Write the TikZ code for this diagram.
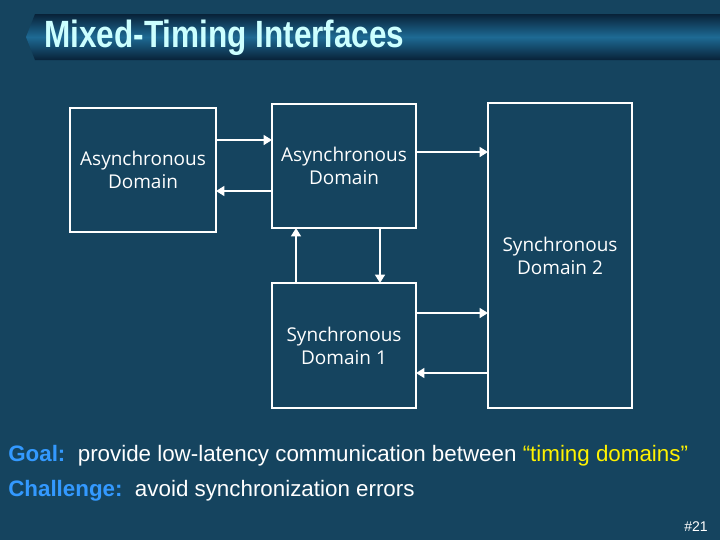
\documentclass[tikz,border=0pt]{standalone}
\usepackage{fontspec}
\setmainfont{Liberation Sans}
\newfontfamily\boxfont{Open Sans}
\usetikzlibrary{arrows.meta}
\definecolor{bg}{HTML}{15445F}
\definecolor{titlec}{HTML}{CCFFFF}
\definecolor{goalc}{HTML}{3399FF}
\definecolor{barmid}{HTML}{1E6A94}
\definecolor{bardark}{HTML}{082238}
\tikzset{box/.style={draw=white,line width=1.3pt,align=center,text=white,font=\boxfont\fontsize{13.5}{16}\selectfont},
 arr/.style={draw=white,line width=2pt,-{Triangle[length=6pt,width=7pt]}}}
\begin{document}
\begin{tikzpicture}[x=0.025cm,y=-0.025cm]
\fill[bg] (0,0) rectangle (720,540);
\useasboundingbox (0,0) rectangle (720,540);
\shade[top color=bardark,bottom color=bardark,middle color=barmid] (35,14) -- (720,14) -- (720,60) -- (35,60) -- (26,37) -- cycle;
\node[anchor=west,text=titlec,font=\bfseries\fontsize{27}{30}\selectfont,xscale=0.83,inner sep=0pt] (title) at (44,38) {Mixed-Timing Interfaces};
\draw[box] (70,108) rectangle (216,232);
\node[box,draw=none] (a1) at (143,170) {Asynchronous\\Domain};
\draw[box] (272,104) rectangle (416,228);
\node[box,draw=none] (a2) at (344,166) {Asynchronous\\Domain};
\draw[box] (272,283) rectangle (416,408);
\node[box,draw=none] (s1) at (344,346) {Synchronous\\Domain 1};
\draw[box] (488,103) rectangle (632,408);
\node[box,draw=none] (s2) at (560,256) {Synchronous\\Domain 2};
\coordinate (p1) at (216,140); \coordinate (q1) at (272,140);
\coordinate (p2) at (272,191); \coordinate (q2) at (216,191);
\coordinate (p3) at (416,152); \coordinate (q3) at (488,152);
\coordinate (p4) at (416,313); \coordinate (q4) at (488,313);
\coordinate (p5) at (488,373); \coordinate (q5) at (416,373);
\coordinate (p6) at (296,283); \coordinate (q6) at (296,228);
\coordinate (p7) at (380,228); \coordinate (q7) at (380,283);
\foreach \i in {1,...,7} \draw[arr] (p\i) -- (q\i);
\node[anchor=west,font=\fontsize{15.9}{18}\selectfont,text=white,inner sep=0pt] (goal) at (8,456) {\textcolor{goalc}{\bfseries Goal:}\ \ provide low-latency communication between \textcolor{yellow}{“timing domains”}};
\node[anchor=west,font=\fontsize{15.9}{18}\selectfont,text=white,inner sep=0pt] (ch) at (8,491) {\textcolor{goalc}{\bfseries Challenge:}\ \ avoid synchronization errors};
\node[anchor=east,font=\fontsize{10}{12}\selectfont,text=white,inner sep=0pt] (num) at (708,527) {\#21};
\end{tikzpicture}
\end{document}
